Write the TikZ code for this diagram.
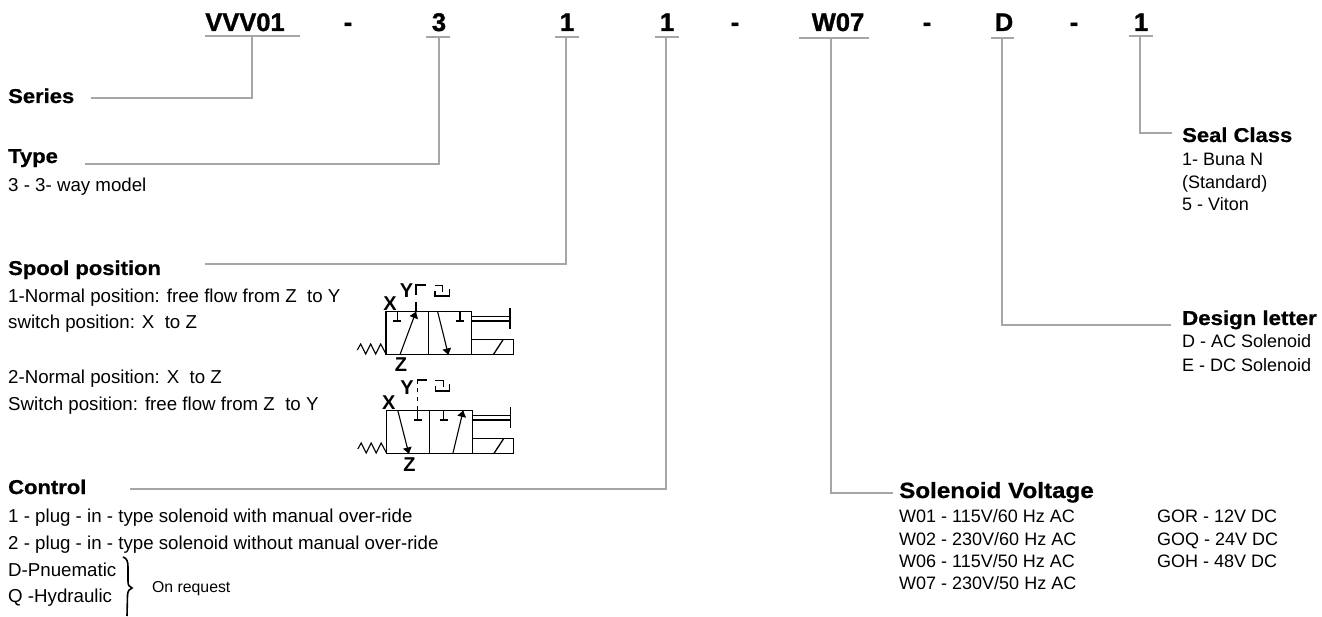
\documentclass[tikz,border=0pt]{standalone}
\usepackage{fontspec}
\setmainfont{Liberation Sans}
\newfontfamily\hd[BoldFeatures={FakeStretch=1.1,FakeBold=0.8}]{Liberation Sans}
\newfontfamily\cd[BoldFeatures={FakeStretch=1.0,FakeBold=1.2}]{Liberation Sans}
\tikzset{
  body/.style={inner sep=0pt,anchor=base west,font=\fontsize{18.7}{19}\selectfont},
  vbody/.style={inner sep=0pt,anchor=base west,font=\fontsize{18}{18}\selectfont},
  small/.style={inner sep=0pt,anchor=base west,font=\fontsize{15.8}{16}\selectfont},
  rbody/.style={inner sep=0pt,anchor=base west,font=\fontsize{18}{18}\selectfont},
  head/.style={inner sep=0pt,anchor=base west,font=\hd\bfseries\fontsize{20}{20}\selectfont},
  code/.style={inner sep=0pt,anchor=base,font=\cd\bfseries\fontsize{25.5}{26}\selectfont},
  port/.style={inner sep=0pt,anchor=center,font=\bfseries\fontsize{20}{20}\selectfont},
  rule/.style={draw=black!35,line width=1.2pt},
  sym/.style={draw=black,line width=1.3pt},
  symthin/.style={draw=black,line width=1.1pt},
}
\newcommand{\valvebody}{%
  \draw[sym] (138,125) rectangle (395,254);
  \draw[sym] (266,125) -- (266,254);
  \draw[symthin,line join=miter] (138,252) -- (122,222) -- (107,252) -- (92,222) -- (77,252) -- (62,222) -- (52,240);
  \draw[symthin] (395,140) -- (510,140) (395,153) -- (510,153);
  \draw[sym] (510,115) -- (510,178);
  \draw[sym] (395,208) -- (520,208) -- (520,254) -- (395,254);
  \draw[sym] (460,254) -- (490,208);
}
\newcommand{\tee}[1]{\draw[symthin] (#1,125) -- (#1,153) (#1-12,153) -- (#1+12,153);}
\newcommand{\flow}[4]{%
  \draw[symthin] (#1,#2) -- (#3,#4);
  \path (#1,#2) -- (#3,#4) coordinate[pos=0.86] (fl);
  \fill[black] (#3,#4) -- ($(fl)!4.5pt!90:(#3,#4)$) -- ($(fl)!4.5pt!-90:(#3,#4)$) -- cycle;
}
\usetikzlibrary{calc}
\begin{document}
\begin{tikzpicture}[x=1pt,y=-1pt]
\useasboundingbox (0,0) rectangle (1322,617);
% top code row
\node[code] (cV) at (245,31) {VVV01};
\node[code] (d1) at (348,31) {-};
\node[code] (c3) at (439,31) {3};
\node[code] (c1a) at (567,31) {1};
\node[code] (c1b) at (667,31) {1};
\node[code] (d2) at (735,31) {-};
\node[code] (cW) at (838,31) {W07};
\node[code] (d3) at (927,31) {-};
\node[code] (cD) at (1004,31) {D};
\node[code] (d4) at (1074,31) {-};
\node[code] (c1c) at (1141,31) {1};
% underlines
\draw[rule] (205,36) -- (300,36);
\draw[rule] (426,37) -- (450,37);
\draw[rule] (555,37) -- (579,37);
\draw[rule] (655,37) -- (679,37);
\draw[rule] (799,38) -- (869,38);
\draw[rule] (991,38) -- (1014,38);
\draw[rule] (1129,36) -- (1153,36);
% connector anchors
\coordinate (sV) at (252,36);   \coordinate (eV) at (91,98);
\coordinate (s3) at (439,37);   \coordinate (e3) at (85,164);
\coordinate (s1a) at (566,37);  \coordinate (e1a) at (205,264);
\coordinate (s1b) at (666,37);  \coordinate (e1b) at (130,489);
\coordinate (sW) at (831,38);   \coordinate (eW) at (893,493);
\coordinate (sD) at (1002,38);  \coordinate (eD) at (1171,325);
\coordinate (s1c) at (1140,36); \coordinate (e1c) at (1172,133);
\draw[rule] (sV) |- (eV);
\draw[rule] (s3) |- (e3);
\draw[rule] (s1a) |- (e1a);
\draw[rule] (s1b) |- (e1b);
\draw[rule] (sW) |- (eW);
\draw[rule] (sD) |- (eD);
\draw[rule] (s1c) |- (e1c);
% left texts
\node[head] (series) at (8,103) {Series};
\node[head] (type) at (8,163) {Type};
\node[body] (t1) at (8,192) {3 - 3- way model};
\node[head] (spool) at (8,275) {Spool position};
\node[body] (s1) at (8,303) {1-Normal position: free flow from Z\ \ to Y};
\node[body] (s2) at (8,329) {switch position: X\ \ to Z};
\node[body] (s3t) at (8,383) {2-Normal position: X\ \ to Z};
\node[body] (s4) at (8,410) {Switch position: free flow from Z\ \ to Y};
\node[head] (control) at (8,494) {Control};
\node[body] (k1) at (8,522) {1 - plug - in - type solenoid with manual over-ride};
\node[body] (k2) at (8,549) {2 - plug - in - type solenoid without manual over-ride};
\node[body] (k3) at (8,576) {D-Pnuematic};
\node[body] (k4) at (8,602) {Q -Hydraulic};
\node[small] (req) at (152,592) {On request};
\draw[line width=1.6pt,black] (123,557) .. controls (127,558) and (128,562) .. (128,567) -- (128,581) .. controls (128,585) and (129,587) .. (132,588) .. controls (129,589) and (128,591) .. (127.5,595) -- (127,616);
% right texts
\node[head] (seal) at (1182,142) {Seal Class};
\node[rbody] (r1) at (1182,166) {1- Buna N};
\node[rbody] (r2) at (1182,189) {(Standard)};
\node[rbody] (r3) at (1182,211) {5 - Viton};
\node[head,font=\hd\bfseries\fontsize{20.2}{21}\selectfont] (design) at (1182,325) {Design letter};
\node[rbody] (g1) at (1182,348) {D - AC Solenoid};
\node[rbody] (g2) at (1182,371) {E - DC Solenoid};
\node[head,font=\hd\bfseries\fontsize{22}{22}\selectfont] (sol) at (899,498) {Solenoid Voltage};
\node[vbody] (w1) at (899,522) {W01 - 115V/60 Hz AC};
\node[vbody] (w2) at (899,545) {W02 - 230V/60 Hz AC};
\node[vbody] (w3) at (899,567) {W06 - 115V/50 Hz AC};
\node[vbody] (w4) at (899,589) {W07 - 230V/50 Hz AC};
\node[vbody] (gr) at (1157,522) {GOR - 12V DC};
\node[vbody] (gq) at (1157,545) {GOQ - 24V DC};
\node[vbody] (gh) at (1157,567) {GOH - 48V DC};
% valve symbol 1
\begin{scope}[shift={(340,270)},x=0.3333pt,y=-0.3333pt]
  \valvebody
  \tee{172}\tee{360}
  \flow{180}{254}{228}{125}
  \flow{293}{125}{325}{254}
  \draw[symthin] (228,125) -- (228,95) (228,76) -- (228,45) -- (258,45);
  \draw[symthin] (285,47) -- (308,47) -- (308,65) (285,62) -- (285,78) -- (328,78) -- (328,56);
  \node[port] (y1) at (200,63) {Y};
  \node[port] (x1) at (150,100) {X};
  \node[port] (z1) at (183,285) {Z};
\end{scope}
% valve symbol 2
\begin{scope}[shift={(340.5,369)},x=0.3333pt,y=-0.3333pt]
  \valvebody
  \tee{232}\tee{310}
  \flow{172}{125}{205}{254}
  \flow{337}{254}{368}{125}
  \draw[symthin] (232,125) -- (232,112) (232,97) -- (232,84) (232,70) -- (232,58) (232,46) -- (232,33) -- (260,33);
  \draw[symthin] (285,35) -- (308,35) -- (308,53) (285,50) -- (285,66) -- (328,66) -- (328,44);
  \node[port] (y2) at (200,55) {Y};
  \node[port] (x2) at (145,101) {X};
  \node[port] (z2) at (207,288) {Z};
\end{scope}
\end{tikzpicture}
\end{document}
